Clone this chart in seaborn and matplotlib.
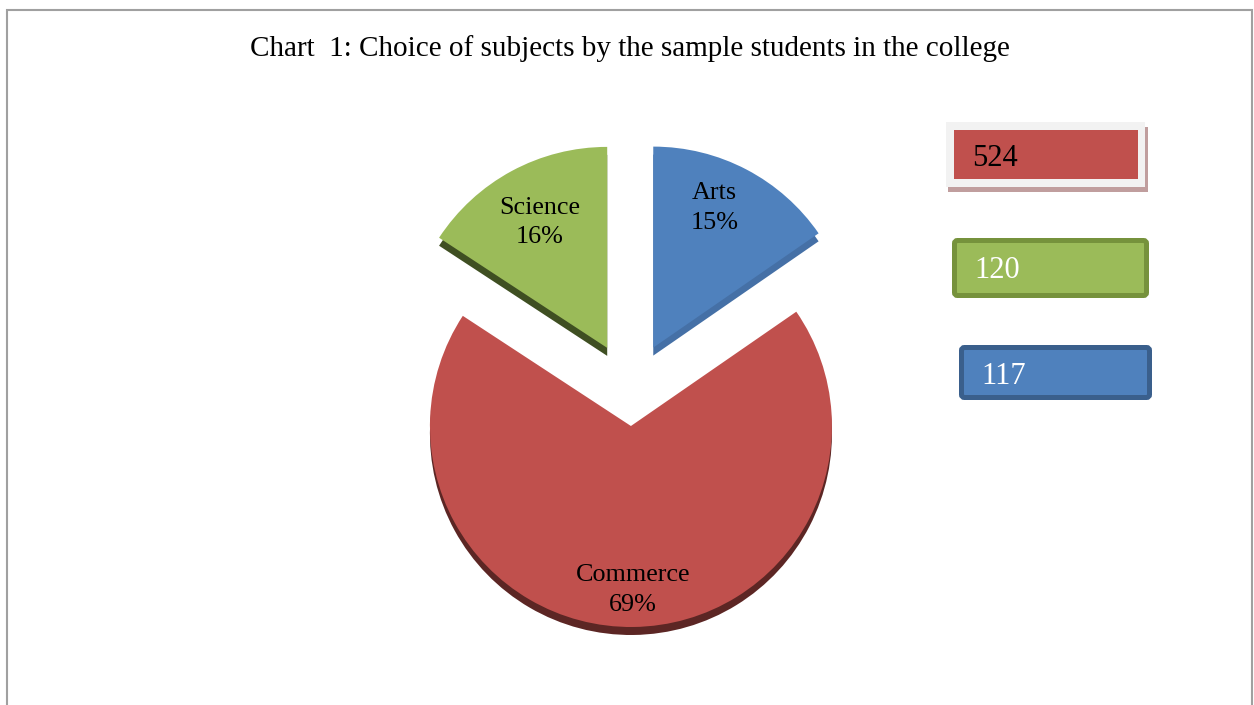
import numpy as np
import matplotlib.pyplot as plt
import seaborn as sns
from matplotlib.patches import Rectangle, FancyBboxPatch

# data
subjects = ["Commerce", "Science", "Arts"]
students = [524, 120, 117]
pie_order = ["Arts", "Commerce", "Science"]

sns.set_theme(style="white")
plt.rcParams["font.family"] = ["Liberation Serif", "DejaVu Serif"]

colors = {"Commerce": "#C0504D", "Science": "#9BBB59", "Arts": "#4F81BD"}
side_colors = {"Commerce": "#5C2624", "Science": "#3F4F22", "Arts": "#4570A6"}

W, H = 1254, 705
fig = plt.figure(figsize=(W / 100, H / 100), dpi=100)
ax = fig.add_axes([0, 0, 1, 1])

counts = dict(zip(subjects, students))
vals = [counts[s] for s in pie_order]
total = sum(students)

center = (630.5, H - 391)
radius = 201
explode = [49, 35, 49]
depth = 8

# darker copy underneath for the 3D edge
ax.pie(vals, colors=[side_colors[s] for s in pie_order], startangle=90,
       counterclock=False, radius=radius, center=(center[0], center[1] - depth),
       explode=explode, wedgeprops=dict(linewidth=0))
wedges, _ = ax.pie(vals, colors=[colors[s] for s in pie_order], startangle=90,
                   counterclock=False, radius=radius, center=center,
                   explode=explode, wedgeprops=dict(linewidth=0))

label_dist = [0.76, 0.815, 0.71]
label_turn = [4, 0, 0]
for w, name, v, d, t in zip(wedges, pie_order, vals, label_dist, label_turn):
    mid = np.deg2rad((w.theta1 + w.theta2) / 2 + t)
    cx, cy = w.center
    ax.text(cx + d * w.r * np.cos(mid), cy + d * w.r * np.sin(mid),
            f"{name}\n{round(100 * v / total)}%", ha="center", va="center",
            fontsize=18.8, color="black", linespacing=1.45)

ax.set_xlim(0, W)
ax.set_ylim(0, H)
ax.set_aspect("equal")
ax.axis("off")

# title
ax.text(630, H - 49, "Chart  1: Choice of subjects by the sample students in the college",
        ha="center", va="center", fontsize=21, color="black")

# value boxes on the right
# Commerce: light frame with soft shadow
ax.add_patch(Rectangle((948, H - 192), 200, 65, facecolor="#C09E9E", edgecolor="none"))
ax.add_patch(Rectangle((946, H - 187), 199, 65, facecolor="#F2F2F2", edgecolor="none"))
ax.add_patch(Rectangle((954, H - 179), 184, 49, facecolor=colors["Commerce"], edgecolor="none"))
ax.text(972, H - 159, str(counts["Commerce"]), ha="left", va="center", fontsize=22, color="black")

# Science
ax.add_patch(FancyBboxPatch((954.5, H - 295.5), 192, 55, boxstyle="round,pad=0,rounding_size=3",
                            facecolor=colors["Science"], edgecolor="#76923C", linewidth=3.6))
ax.text(974, H - 270, str(counts["Science"]), ha="left", va="center", fontsize=22, color="white")

# Arts
ax.add_patch(FancyBboxPatch((961.5, H - 397.5), 188, 50, boxstyle="round,pad=0,rounding_size=3",
                            facecolor=colors["Arts"], edgecolor="#3A5F8C", linewidth=3.6))
ax.text(981, H - 377, str(counts["Arts"]), ha="left", va="center", fontsize=22, color="white")

# outer frame (open at bottom)
ax.plot([7, 7, 1252, 1252], [0, H - 10, H - 10, 0], color="#A0A0A0", linewidth=1.5,
        solid_joinstyle="miter")

fig.savefig("out.png", dpi=100, facecolor="white")
